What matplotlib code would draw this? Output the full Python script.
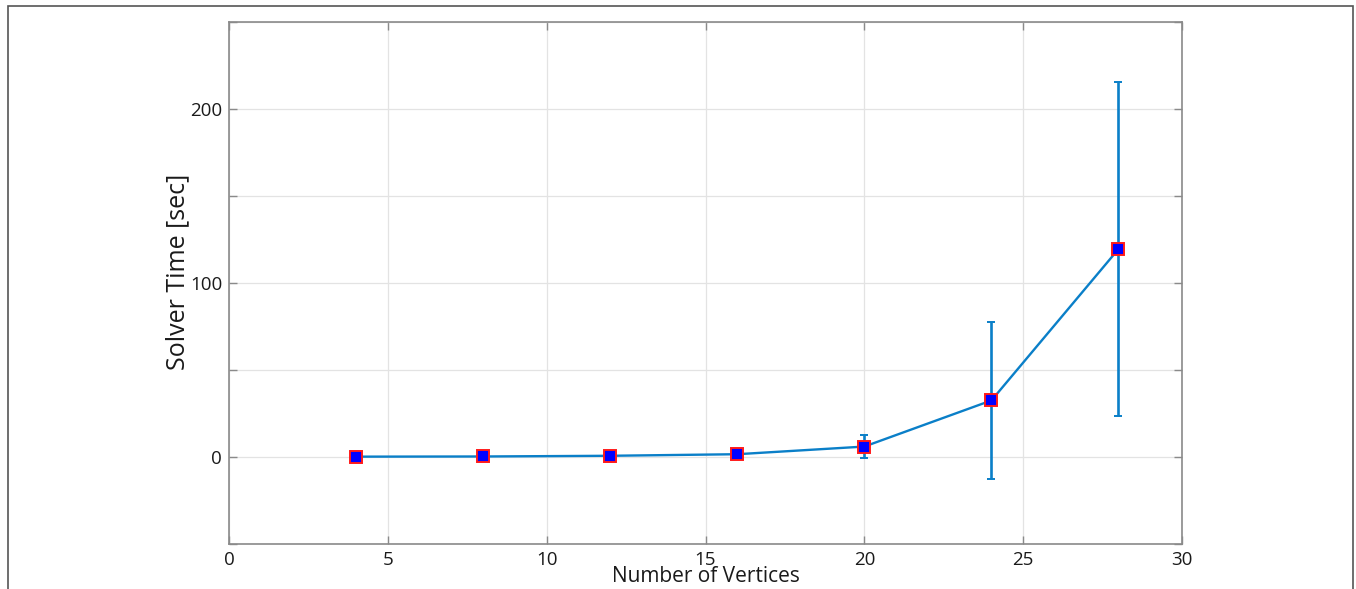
import numpy as np
import matplotlib.pyplot as plt
from matplotlib.patches import Rectangle
from matplotlib.ticker import MultipleLocator, FuncFormatter

# --- data ---
vertices = [4, 8, 12, 16, 20, 24, 28]
solver_time = [0.2, 0.3, 0.7, 1.6, 6.0, 32.5, 119.5]
solver_err = [0.3, 0.4, 0.8, 1.2, 6.5, 45.0, 96.0]

line_col = '#0a7fc8'
axis_col = '#8a8a8a'
text_col = '#1a1a1a'

plt.rcParams['font.family'] = ['Open Sans', 'DejaVu Sans']

fig = plt.figure(figsize=(13.56, 5.89), dpi=100)
ax = fig.add_axes([229 / 1356, 1 - 544 / 589, (1182 - 229) / 1356, (544 - 22) / 589])

ax.errorbar(vertices, solver_time, yerr=solver_err, color=line_col, lw=1.7,
            elinewidth=1.9, capsize=3, capthick=1.9,
            marker='s', markersize=9, markerfacecolor='#0000ff',
            markeredgecolor='#ff1a1a', markeredgewidth=1.4, zorder=3)

ax.set_xlim(0, 30)
ax.set_ylim(-50, 250)
ax.xaxis.set_major_locator(MultipleLocator(5))
ax.yaxis.set_major_locator(MultipleLocator(50))
ax.yaxis.set_major_formatter(FuncFormatter(lambda v, p: f'{v:.0f}' if v % 100 == 0 else ''))

ax.grid(True, color='#e3e3e3', lw=0.9)
ax.set_axisbelow(True)
ax.tick_params(direction='in', length=6, width=1, color=axis_col, labelsize=13.5,
               labelcolor=text_col, top=True, right=True, pad=5)
for s in ax.spines.values():
    s.set_color(axis_col)
    s.set_linewidth(1.2)

ax.set_xlabel('Number of Vertices', fontsize=15, color=text_col, labelpad=-2)
ax.set_ylabel('Solver Time [sec]', fontsize=18, color=text_col)
ax.yaxis.set_label_coords(-0.041, 0.521)

# outer frame round the figure
fig.patches.append(Rectangle((8 / 1356, -0.05), (1353 - 8) / 1356, 1.05 - 6 / 589,
                             transform=fig.transFigure, fill=False,
                             edgecolor='#555555', lw=1.2))

fig.savefig('out.png', dpi=100)
